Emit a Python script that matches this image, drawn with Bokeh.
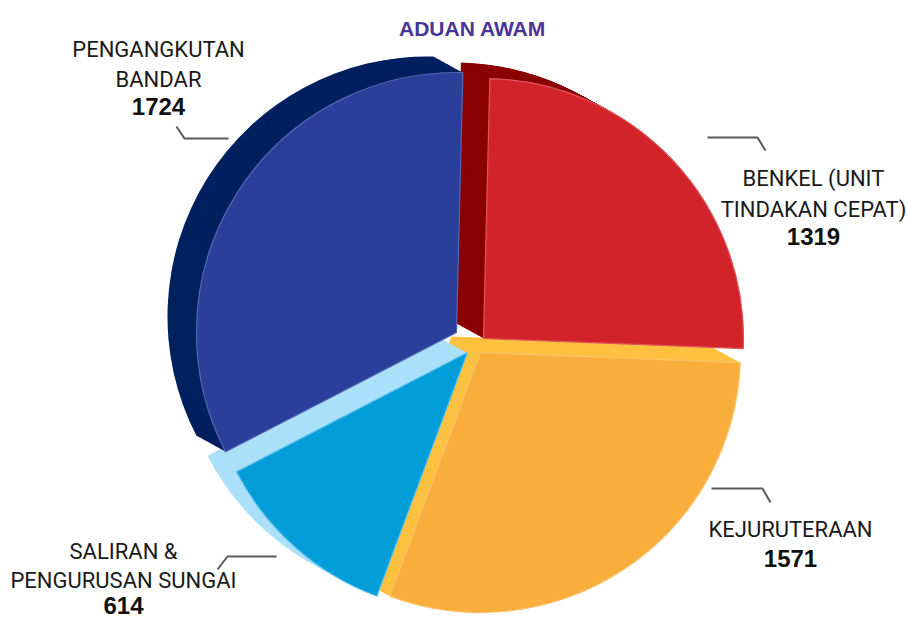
import numpy as np
from bokeh.plotting import figure
from bokeh.models import Range1d
from bokeh.core.properties import value
from bokeh.embed import file_html
from bokeh.resources import INLINE

# ---------------- data ----------------
title = "ADUAN AWAM"
categories = ["BENKEL (UNIT TINDAKAN CEPAT)", "KEJURUTERAAN",
              "SALIRAN & PENGURUSAN SUNGAI", "PENGANGKUTAN BANDAR"]
label_lines = [["BENKEL (UNIT", "TINDAKAN CEPAT)"], ["KEJURUTERAAN"],
               ["SALIRAN &", "PENGURUSAN SUNGAI"], ["PENGANGKUTAN", "BANDAR"]]
values = [1319, 1571, 614, 1724]

# ---------------- styles ----------------
front_colors = ["#D2232A", "#F9AE3B", "#009DD9", "#2A3F9A"]
edge_colors = ["#E0565B", "#FBC26A", "#5CC0EA", "#5566B4"]
depth_colors = ["#8B0000", "#FDC140", "#ABE0F9", "#00205F"]
title_color = "#483596"
leader_color = "#5A5A5A"
label_font = "Roboto"
num_font = "Liberation Sans"

# ---------------- layout (page pixel coordinates) ----------------
W, H = 907, 621
def X(px): return px
def Y(py): return H - py

start_deg = 88.6
radius = 260
depth_dx, depth_dy = -29, -16            # page pixels
apex = [(483, 338), (480, 352), (467, 352), (456, 332)]
label_cx = [813, 790, 123, 158]
label_mid = [[178, 209], [529], [551, 580], [49, 79]]   # vertical centres of text lines
num_mid = [236, 558, 605, 106]
title_mid = 28
leaders = [[(707, 137), (757, 137), (765, 150)],
           [(711, 488), (762, 488), (770, 502)],
           [(276, 556), (227, 556), (217, 569)],
           [(176, 126), (184, 138), (228, 138)]]

p = figure(width=W, height=H, x_range=Range1d(0, W), y_range=Range1d(0, H),
           x_axis_type=None, y_axis_type=None, toolbar_location=None,
           output_backend="svg", min_border=0)
p.outline_line_color = None
p.grid.visible = False
p.background_fill_color = "white"

vals = np.array(values, dtype=float)
cum = np.concatenate([[0], np.cumsum(vals)]) / vals.sum() * 2 * np.pi
st0 = np.deg2rad(start_deg)
starts = st0 - cum[1:]     # anticlock start (smaller angle)
ends = st0 - cum[:-1]

# depth extrusion (drawn first)
steps = np.linspace(1.0, 0.0, 40)
for i in range(len(values)):
    ax, ay = apex[i]
    xs = [X(ax + t * depth_dx) for t in steps]
    ys = [Y(ay + t * depth_dy) for t in steps]
    p.wedge(x=xs, y=ys, radius=radius, start_angle=starts[i], end_angle=ends[i],
            fill_color=depth_colors[i], line_color=None)

# front faces
for i in range(len(values)):
    ax, ay = apex[i]
    p.wedge(x=[X(ax)], y=[Y(ay)], radius=radius, start_angle=starts[i], end_angle=ends[i],
            fill_color=front_colors[i], line_color=edge_colors[i], line_width=1.2)

# leader lines
for pts in leaders:
    p.line([X(a) for a, b in pts], [Y(b) for a, b in pts],
           line_color=leader_color, line_width=2)

# labels
for i in range(len(values)):
    for line, mid in zip(label_lines[i], label_mid[i]):
        p.text(x=[X(label_cx[i])], y=[Y(mid)], text=[line], text_align="center",
               text_baseline="middle", text_font=value(label_font),
               text_font_size="22px", text_color="#1A1A1A")
    p.text(x=[X(label_cx[i])], y=[Y(num_mid[i])], text=[str(values[i])],
           text_align="center", text_baseline="middle",
           text_font=value(num_font), text_font_style="bold",
           text_font_size="24px", text_color="#111111")

# title
p.text(x=[X(472)], y=[Y(title_mid)], text=[title], text_align="center",
       text_baseline="middle", text_font=value(num_font),
       text_font_style="bold", text_font_size="21px", text_color=title_color)

open("out.html", "w").write(file_html(p, INLINE))
